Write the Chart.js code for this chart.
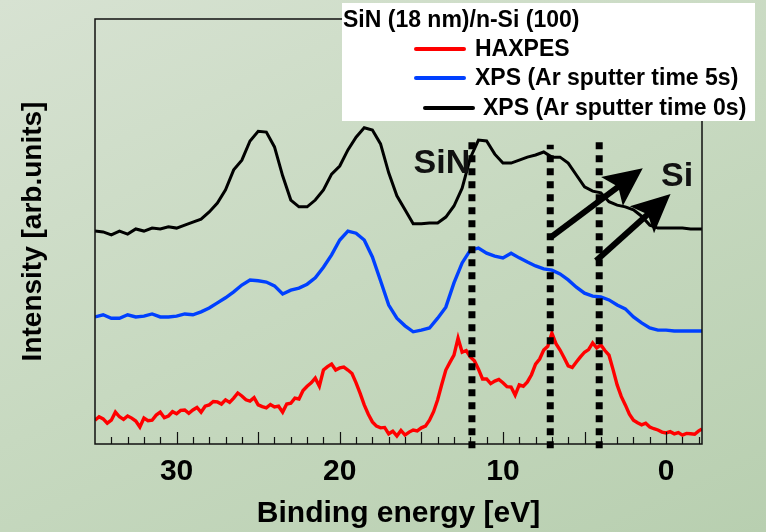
<!DOCTYPE html>
<html lang="en">
<head>
<meta charset="UTF-8">
<title>SiN (18 nm)/n-Si (100)</title>
<script src="https://cdn.jsdelivr.net/npm/chart.js"></script>
<style>
  html, body { margin: 0; padding: 0; }
  body {
    width: 766px; height: 532px; overflow: hidden;
    background: linear-gradient(155deg, #d7e2d2 0%, #c7d9c0 50%, #b8cfb0 100%);
  }
</style>
</head>
<body>
<canvas id="chart" width="766" height="532"></canvas>
<script>
// binding energy grid (eV) for the two XPS curves
var energy = [35, 34.5, 34, 33.5, 33, 32.5, 32, 31.5, 31, 30.5, 30, 29.5, 29, 28.5, 28, 27.5, 27, 26.5, 26, 25.5,
  25, 24.5, 24, 23.5, 23, 22.5, 22, 21.5, 21, 20.5, 20, 19.5, 19, 18.5, 18, 17.5, 17, 16.5, 16, 15.5,
  15, 14.5, 14, 13.5, 13, 12.5, 12, 11.5, 11, 10.5, 10, 9.5, 9, 8.5, 8, 7.5, 7, 6.5, 6, 5.5,
  5, 4.5, 4, 3.5, 3, 2.5, 2, 1.5, 1, 0.5, 0, -0.5, -1, -1.5, -2, -2.2];

// XPS (Ar sputter time 0s) - black, offset trace
var xps0s = [50.1, 49.9, 49.2, 50.1, 49.4, 50.6, 50.1, 50.8, 50.6, 51.1, 50.8, 51.5, 52.2, 52.9, 54.6, 56.7, 59.8, 64.5, 66.8, 71.3,
  73.6, 73.4, 69.9, 63.1, 57.4, 55.8, 55.8, 57.4, 59.8, 63.5, 65.4, 69.2, 72.2, 74.4, 73.9, 70.6, 63.8, 58.4, 55.1, 51.8,
  51.8, 52.0, 52.0, 53.4, 56.0, 60.2, 67.3, 71.5, 71.3, 68.2, 66.1, 66.1, 66.8, 67.5, 68.0, 68.7, 67.5, 67.5, 66.1, 63.3,
  60.5, 59.5, 59.1, 57.0, 56.2, 55.8, 55.1, 53.6, 51.5, 50.8, 50.8, 50.8, 50.8, 50.6, 50.6, 50.6];

// XPS (Ar sputter time 5s) - blue
var xps5s = [29.9, 30.4, 29.6, 29.6, 30.4, 29.9, 30.1, 30.6, 29.9, 29.9, 30.1, 30.6, 30.4, 31.1, 32.0, 33.2, 34.4, 35.8, 37.4, 38.6,
  38.4, 38.1, 37.2, 35.3, 36.2, 36.7, 37.6, 39.1, 41.6, 44.5, 48.0, 50.1, 49.6, 48.0, 44.0, 38.4, 32.7, 29.6, 27.8, 26.4,
  26.8, 27.3, 29.6, 32.2, 37.9, 42.6, 45.6, 46.1, 44.9, 44.2, 43.8, 44.9, 43.8, 42.8, 41.9, 41.2, 40.9, 40.0, 38.6, 36.9,
  35.5, 34.8, 34.6, 33.9, 32.7, 31.8, 29.9, 28.5, 27.3, 26.8, 26.8, 26.6, 26.6, 26.6, 26.6, 26.6];

// HAXPES - red, finer grid
var haxE = [35, 34.75, 34.5, 34.25, 34, 33.75, 33.5, 33.25, 33, 32.75, 32.5, 32.25, 32, 31.75, 31.5, 31.25, 31, 30.75, 30.5, 30.25,
  30, 29.75, 29.5, 29.25, 29, 28.75, 28.5, 28.25, 28, 27.75, 27.5, 27.25, 27, 26.75, 26.5, 26.25, 26, 25.75, 25.5, 25.25,
  25, 24.75, 24.5, 24.25, 24, 23.75, 23.5, 23.25, 23, 22.75, 22.5, 22.25, 22, 21.75, 21.5, 21.25, 21, 20.75, 20.5, 20.25,
  20, 19.75, 19.5, 19.25, 19, 18.75, 18.5, 18.25, 18, 17.75, 17.5, 17.25, 17, 16.75, 16.5, 16.25, 16, 15.75, 15.5, 15.25,
  15, 14.75, 14.5, 14.25, 14, 13.75, 13.5, 13.25, 13, 12.75, 12.5, 12.25, 12, 11.75, 11.5, 11.25, 11, 10.75, 10.5, 10.25,
  10, 9.75, 9.5, 9.25, 9, 8.75, 8.5, 8.25, 8, 7.75, 7.5, 7.25, 7, 6.75, 6.5, 6.25, 6, 5.75, 5.5, 5.25,
  5, 4.75, 4.5, 4.25, 4, 3.75, 3.5, 3.25, 3, 2.75, 2.5, 2.25, 2, 1.75, 1.5, 1.25, 1, 0.75, 0.5, 0.25,
  0, -0.25, -0.5, -0.75, -1, -1.25, -1.5, -1.75, -2, -2.2];
var haxpes = [5.6, 6.4, 5.9, 4.9, 5.6, 7.5, 6.4, 5.8, 6.6, 6.1, 5.4, 4.0, 6.1, 5.5, 5.6, 6.8, 7.5, 6.2, 6.6, 7.6,
  7.1, 7.9, 8.0, 7.2, 8.0, 8.6, 7.5, 8.9, 9.2, 10.0, 9.9, 9.4, 10.4, 9.8, 10.8, 12.0, 11.3, 10.4, 10.1, 10.9,
  9.2, 8.8, 8.5, 9.3, 8.7, 8.9, 7.5, 9.4, 9.6, 10.8, 10.6, 12.6, 13.6, 14.4, 15.5, 13.6, 17.4, 18.2, 18.8, 17.4,
  17.9, 18.1, 17.4, 16.6, 14.4, 11.9, 9.2, 7.0, 5.2, 4.2, 3.8, 3.9, 2.4, 3.0, 1.9, 3.2, 2.1, 2.8, 3.3, 3.1,
  3.8, 4.2, 5.6, 7.6, 10.4, 14.0, 17.4, 19.2, 20.9, 24.9, 21.6, 22.0, 20.5, 19.6, 17.6, 15.3, 15.3, 14.2, 14.8, 15.2,
  14.4, 13.5, 13.4, 11.5, 13.9, 13.6, 14.6, 16.3, 18.8, 20.0, 22.1, 23.0, 26.1, 23.6, 22.1, 20.3, 18.4, 18.0, 19.3, 20.5,
  21.6, 22.2, 23.8, 22.6, 23.3, 22.0, 20.9, 17.5, 13.9, 11.2, 9.2, 7.0, 5.6, 5.0, 4.5, 4.9, 4.0, 3.6, 3.3, 2.8,
  2.6, 2.9, 2.4, 2.7, 2.1, 2.5, 2.4, 2.3, 3.1, 3.5];

var xTicks = [30, 20, 10, 0];

// dotted marker lines (energy, top intensity)
var markE = [11.9, 7.1, 4.1];
var markTop = [71.8, 70.4, 71.1];

// arrows [fromE, fromI, toE, toI]
var arrows = [[7.12, 48.5, 1.66, 64.2], [4.29, 43.1, -0.06, 58.1]];

var FONT = "'Liberation Sans', Arial, sans-serif";

function pairs(xs, ys) {
    return xs.map(function (x, i) { return { x: x, y: ys[i] }; });
}

function drawArrow(ctx, x1, y1, x2, y2) {
    var ang = Math.atan2(y2 - y1, x2 - x1);
    var L = 33, h = 0.44;
    ctx.lineWidth = 6;
    ctx.lineCap = 'butt';
    ctx.beginPath();
    ctx.moveTo(x1, y1);
    ctx.lineTo(x2 - Math.cos(ang) * L * 0.5, y2 - Math.sin(ang) * L * 0.5);
    ctx.stroke();
    // notched (stealth) head
    ctx.lineWidth = 4;
    ctx.lineJoin = 'miter';
    ctx.beginPath();
    ctx.moveTo(x2, y2);
    ctx.lineTo(x2 - L * Math.cos(ang - h), y2 - L * Math.sin(ang - h));
    ctx.lineTo(x2 - L * 0.72 * Math.cos(ang), y2 - L * 0.72 * Math.sin(ang));
    ctx.lineTo(x2 - L * Math.cos(ang + h), y2 - L * Math.sin(ang + h));
    ctx.closePath();
    ctx.fill();
    ctx.stroke();
}

var decor = {
    id: 'decor',
    afterDatasetsDraw: function (chart) {
        var ctx = chart.ctx, a = chart.chartArea;
        var xs = chart.scales.x, ys = chart.scales.y;
        ctx.save();

        // frame
        ctx.strokeStyle = '#111';
        ctx.lineWidth = 1.5;
        ctx.strokeRect(a.left, a.top, a.right - a.left, a.bottom - a.top);

        // inward tick marks on the energy axis
        ctx.lineWidth = 1.2;
        for (var e = 34; e >= -2; e--) {
            var x = Math.round(xs.getPixelForValue(e)) + 0.5;
            var len = (e % 5 === 0) ? 12 : 7;
            ctx.beginPath();
            ctx.moveTo(x, a.bottom);
            ctx.lineTo(x, a.bottom - len);
            ctx.stroke();
        }

        // dotted marker lines
        ctx.strokeStyle = '#000';
        ctx.lineWidth = 7;
        ctx.setLineDash([7, 6]);
        markE.forEach(function (m, i) {
            var x = xs.getPixelForValue(m);
            ctx.beginPath();
            ctx.moveTo(x, ys.getPixelForValue(-1));
            ctx.lineTo(x, ys.getPixelForValue(markTop[i]));
            ctx.stroke();
        });
        ctx.setLineDash([]);

        // arrows
        ctx.strokeStyle = '#000';
        ctx.fillStyle = '#000';
        arrows.forEach(function (r) {
            drawArrow(ctx, xs.getPixelForValue(r[0]), ys.getPixelForValue(r[1]),
                xs.getPixelForValue(r[2]), ys.getPixelForValue(r[3]));
        });

        // labels
        ctx.fillStyle = '#111';
        ctx.font = 'bold 34px ' + FONT;
        ctx.textAlign = 'center';
        ctx.textBaseline = 'middle';
        ctx.fillText('SiN', xs.getPixelForValue(13.74), ys.getPixelForValue(65.9));
        ctx.fillText('Si', xs.getPixelForValue(-0.67), ys.getPixelForValue(62.8));

        // legend box
        ctx.fillStyle = '#ffffff';
        ctx.fillRect(342, 3, 413, 118);
        ctx.fillStyle = '#000';
        ctx.textAlign = 'left';
        ctx.font = 'bold 23px ' + FONT;
        ctx.fillText('SiN (18 nm)/n-Si (100)', 343, 21);
        var rows = [[416, 475, 49], [416, 475, 78], [425, 483, 108]];
        chart.data.datasets.forEach(function (ds, i) {
            var r = rows[i];
            ctx.strokeStyle = ds.borderColor;
            ctx.lineWidth = 4;
            ctx.lineCap = 'round';
            ctx.beginPath();
            ctx.moveTo(r[0], r[2]);
            ctx.lineTo(r[0] + 48, r[2]);
            ctx.stroke();
            ctx.fillText(ds.label, r[1], r[2] + 1);
        });
        ctx.restore();
    }
};

new Chart(document.getElementById('chart').getContext('2d'), {
    type: 'line',
    data: {
        datasets: [
            { label: 'HAXPES', data: pairs(haxE, haxpes), borderColor: '#ff0000', borderWidth: 3.4 },
            { label: 'XPS (Ar sputter time 5s)', data: pairs(energy, xps5s), borderColor: '#0040ff', borderWidth: 3.4 },
            { label: 'XPS (Ar sputter time 0s)', data: pairs(energy, xps0s), borderColor: '#000000', borderWidth: 3 }
        ]
    },
    options: {
        responsive: false,
        animation: false,
        devicePixelRatio: 1,
        elements: { point: { radius: 0 }, line: { tension: 0 } },
        layout: { padding: { top: 19, right: 64, left: 0, bottom: 0 } },
        plugins: { legend: { display: false }, tooltip: { enabled: false } },
        scales: {
            x: {
                type: 'linear',
                reverse: true,
                min: -2.2,
                max: 35,
                afterBuildTicks: function (s) { s.ticks = xTicks.map(function (v) { return { value: v }; }); },
                afterFit: function (s) { s.height = 88; },
                grid: { display: false, drawTicks: false },
                border: { display: false },
                ticks: { color: '#000', padding: 10, maxRotation: 0, autoSkip: false,
                    font: { family: FONT, size: 30, weight: 'bold' } },
                title: { display: true, text: 'Binding energy [eV]', color: '#000',
                    font: { family: FONT, size: 30, weight: 'bold' }, padding: { top: 0, bottom: 0 } }
            },
            y: {
                min: 0,
                max: 100,
                afterFit: function (s) { s.width = 95; },
                grid: { display: false, drawTicks: false },
                border: { display: false },
                ticks: { display: false },
                title: { display: true, text: 'Intensity [arb.units]', color: '#000',
                    font: { family: FONT, size: 28, weight: 'bold' }, padding: { top: 16, bottom: 0 } }
            }
        }
    },
    plugins: [decor]
});
</script>
</body>
</html>
